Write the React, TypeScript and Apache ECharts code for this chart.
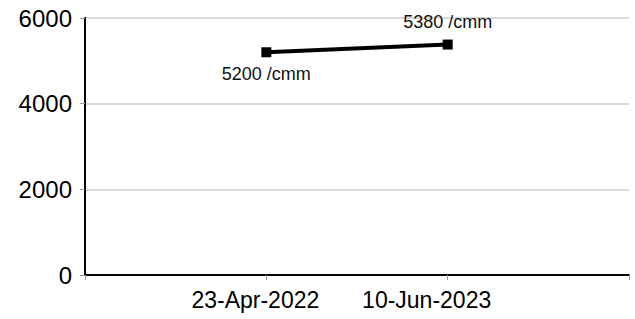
import React, { useEffect, useRef } from "react";
import * as echarts from "echarts";

const categories = ["", "23-Apr-2022", "10-Jun-2023", ""];
const values: (number | null)[] = [null, 5200, 5380, null];
const valueLabels = ["", "5200 /cmm", "5380 /cmm", ""];
const yTicks = [0, 2000, 4000, 6000];

const FONT = "Liberation Sans, Arial, sans-serif";

export default function App() {
  const ref = useRef<HTMLDivElement>(null);
  useEffect(() => {
    document.body.style.margin = "0";
    if (!ref.current) return;
    const chart = echarts.init(ref.current, undefined, { renderer: "svg" });
    chart.setOption({
      animation: false,
      grid: { left: 85, right: 6, top: 18, bottom: 44 },
      xAxis: {
        type: "category",
        data: categories,
        boundaryGap: false,
        axisLine: { lineStyle: { color: "#000", width: 2 } },
        axisTick: { show: true, length: 5, lineStyle: { color: "#999", width: 1 } },
        axisLabel: {
          interval: 0,
          margin: 13,
          color: "#000",
          fontSize: 23,
          fontFamily: FONT,
          formatter: (v: string) => {
            if (v === categories[1]) return "{a|" + v + "}";
            if (v === categories[2]) return "{b|" + v + "}";
            return v;
          },
          rich: {
            a: { fontSize: 23, color: "#000", fontFamily: FONT, padding: [0, 22, 0, 0] },
            b: { fontSize: 23, color: "#000", fontFamily: FONT, padding: [0, 42, 0, 0] },
          },
        },
        splitLine: { show: false },
      },
      yAxis: {
        type: "value",
        min: yTicks[0],
        max: yTicks[yTicks.length - 1],
        interval: 2000,
        axisLine: { show: true, lineStyle: { color: "#000", width: 2 } },
        axisTick: { show: true, length: 5, lineStyle: { color: "#999", width: 1 } },
        axisLabel: {
          margin: 13,
          color: "#000",
          fontSize: 24,
          fontFamily: FONT,
          formatter: (v: number) => String(v),
        },
        splitLine: { show: true, lineStyle: { color: "#d9d9d9", width: 2 } },
      },
      series: [
        {
          type: "line",
          data: values.map((v, i) =>
            i === 1
              ? { value: v, label: { position: "bottom", distance: 8 } }
              : i === 2
              ? { value: v, label: { position: "top", distance: 9 } }
              : v
          ),
          connectNulls: false,
          symbol: "rect",
          symbolSize: 10,
          itemStyle: { color: "#000" },
          lineStyle: { color: "#000", width: 4 },
          label: {
            show: true,
            fontSize: 18,
            color: "#111",
            fontFamily: FONT,
            formatter: (p: any) => valueLabels[p.dataIndex],
          },
          emphasis: { disabled: true },
        },
      ],
    });
    return () => chart.dispose();
  }, []);
  return <div ref={ref} style={{ width: 635, height: 319 }} />;
}
